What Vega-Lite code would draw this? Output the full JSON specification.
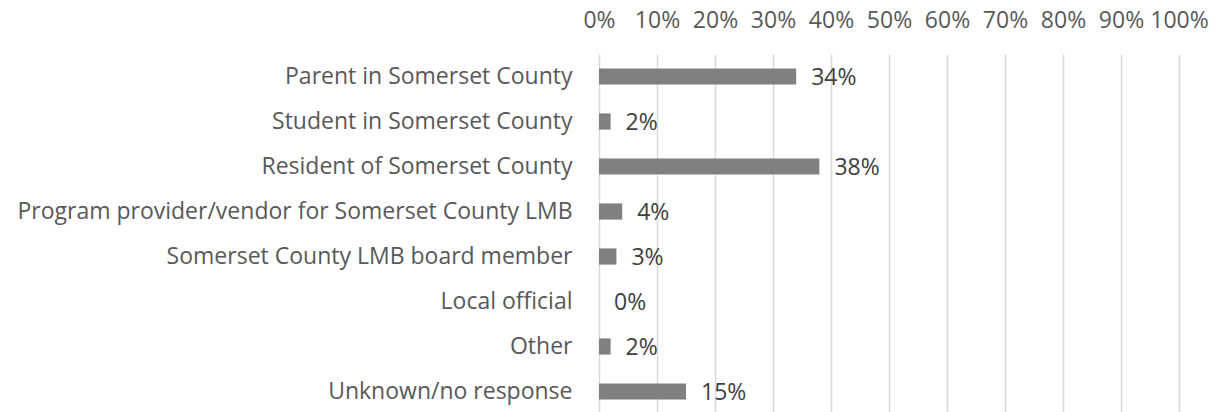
{
  "$schema": "https://vega.github.io/schema/vega-lite/v6.json",
  "autosize": "none",
  "padding": {"left": 599, "top": 54, "right": 42, "bottom": 0},
  "width": 580,
  "height": 360,
  "background": "white",
  "data": {
    "values": [
      {"group": "Parent in Somerset County", "share": 0.34},
      {"group": "Student in Somerset County", "share": 0.02},
      {"group": "Resident of Somerset County", "share": 0.38},
      {"group": "Program provider/vendor for Somerset County LMB", "share": 0.04},
      {"group": "Somerset County LMB board member", "share": 0.03},
      {"group": "Local official", "share": 0.0},
      {"group": "Other", "share": 0.02},
      {"group": "Unknown/no response", "share": 0.15}
    ]
  },
  "encoding": {
    "y": {
      "field": "group",
      "type": "nominal",
      "sort": null,
      "scale": {"paddingInner": 0.64, "paddingOuter": 0.32},
      "axis": {
        "title": null,
        "domain": false,
        "ticks": false,
        "labelPadding": 27,
        "labelFont": "Open Sans",
        "labelFontSize": 23,
        "labelColor": "#595959",
        "labelLimit": 700
      }
    },
    "x": {
      "field": "share",
      "type": "quantitative",
      "scale": {"domain": [0, 1], "nice": false},
      "axis": {
        "orient": "top",
        "title": null,
        "format": ".0%",
        "values": [0, 0.1, 0.2, 0.3, 0.4, 0.5, 0.6, 0.7, 0.8, 0.9, 1],
        "domain": false,
        "ticks": false,
        "grid": true,
        "gridColor": "#d9d9d9",
        "gridWidth": 1.5,
        "labelPadding": 27,
        "labelBaseline": "alphabetic",
        "labelFont": "Open Sans",
        "labelFontSize": 23,
        "labelColor": "#595959",
        "labelFlush": false,
        "labelOverlap": false
      }
    }
  },
  "layer": [
    {"mark": {"type": "bar", "color": "#808080"}},
    {
      "mark": {"type": "text", "align": "left", "baseline": "middle", "dx": 15, "dy": 1, "font": "Open Sans", "fontSize": 23, "color": "#404040"},
      "encoding": {"text": {"field": "share", "format": ".0%"}}
    }
  ],
  "config": {"view": {"stroke": null}}
}
